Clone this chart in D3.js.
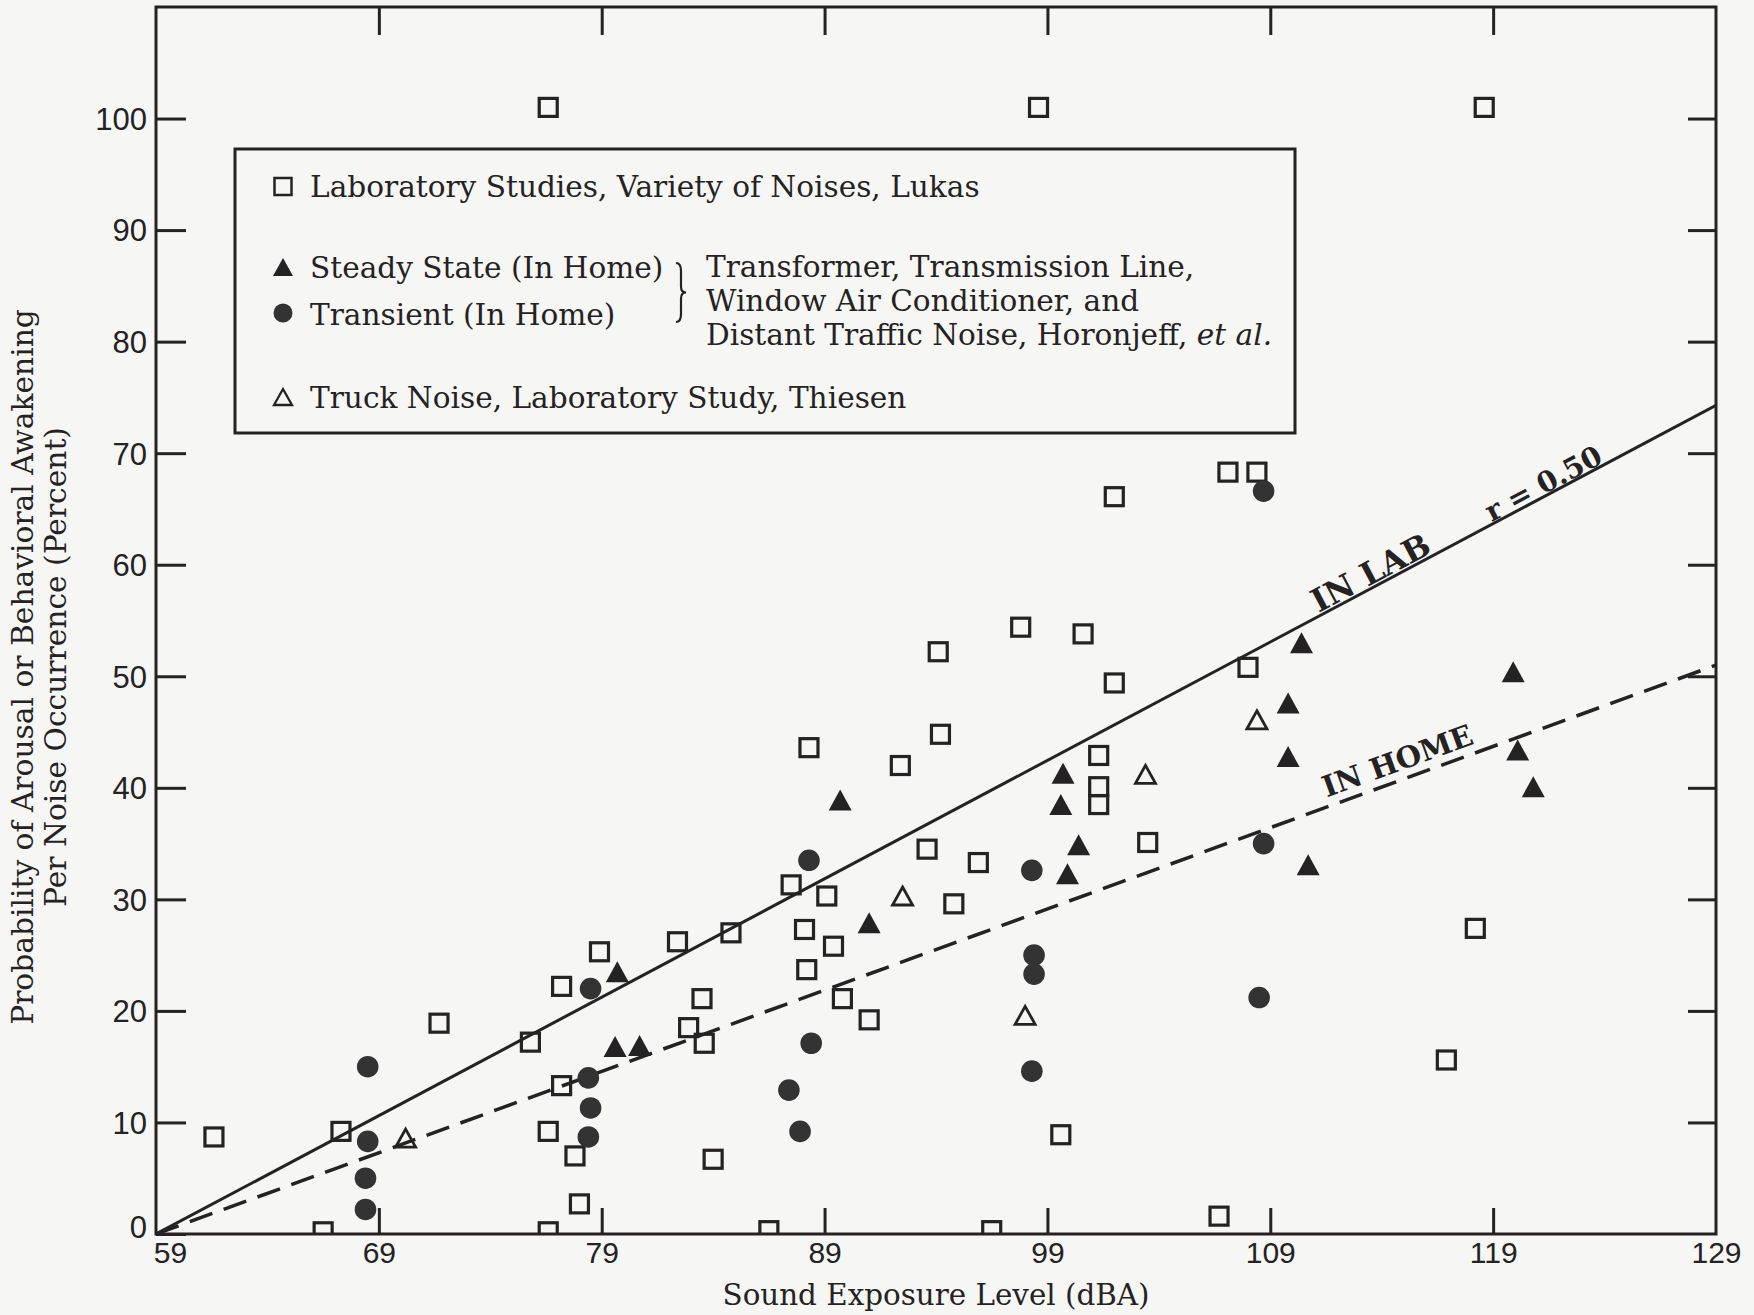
<!DOCTYPE html>
<html>
<head>
<meta charset="utf-8">
<script src="https://cdn.jsdelivr.net/npm/d3@7"></script>
<style>
  html, body { margin: 0; padding: 0; background: #f6f6f4; }
  svg { display: block; }
</style>
</head>
<body>
<svg id="chart" width="1754" height="1315"></svg>
<script>
// open squares - Laboratory Studies, Variety of Noises, Lukas
const labStudies = [
  [76.6, 101], [98.6, 101], [118.6, 101],
  [61.6, 8.7], [67.3, 9.2], [66.5, 0.2], [71.7, 18.9], [75.8, 17.2], [76.6, 9.2],
  [77.2, 13.3], [77.2, 22.2], [77.8, 7.0], [78.0, 2.7], [76.6, 0.2], [78.9, 25.3],
  [82.4, 26.2], [82.9, 18.5], [83.5, 21.1], [83.6, 17.1], [84.8, 27.0], [84.0, 6.7], [86.5, 0.3],
  [87.5, 31.3], [88.1, 27.3], [88.2, 23.7], [88.3, 43.6], [89.1, 30.3], [89.4, 25.8],
  [89.8, 21.1], [91.0, 19.2], [92.4, 42.0], [93.6, 34.5], [94.1, 52.2], [94.2, 44.8],
  [94.8, 29.6], [95.9, 33.3], [96.5, 0.3], [97.8, 54.4],
  [99.6, 8.9], [100.6, 53.8], [102.0, 49.4], [101.3, 42.9], [101.3, 40.1], [101.3, 38.5],
  [102.0, 66.1], [103.5, 35.1],
  [106.7, 1.6], [107.1, 68.3], [108.4, 68.3], [108.0, 50.8], [116.9, 15.6], [118.2, 27.4]
];

// filled triangles - Steady State (In Home)
const steadyState = [
  [79.7, 23.5], [79.6, 16.8], [80.7, 16.9], [89.7, 38.9], [91.0, 27.9],
  [99.7, 41.3], [99.6, 38.5], [100.4, 34.9], [99.9, 32.3],
  [110.4, 53.0], [109.8, 47.6], [109.8, 42.8], [110.7, 33.1],
  [119.9, 50.4], [120.1, 43.4], [120.8, 40.1]
];

// filled circles - Transient (In Home)
const transient = [
  [68.5, 15.0], [68.5, 8.3], [68.4, 5.0], [68.4, 2.2],
  [78.5, 22.0], [78.4, 14.0], [78.5, 11.3], [78.4, 8.7],
  [88.3, 33.5], [88.4, 17.1], [87.4, 12.9], [87.9, 9.2],
  [98.3, 32.6], [98.4, 25.0], [98.4, 23.3], [98.3, 14.6],
  [108.7, 66.6], [108.7, 35.0], [108.5, 21.2]
];

// open triangles - Truck Noise, Laboratory Study, Thiesen
const truckNoise = [[70.2, 8.6], [92.5, 30.3], [98.0, 19.6], [103.4, 41.2], [108.4, 46.1]];

// regression lines
const labLine = [[59, 0], [129, 74.3]];
const homeLine = [[59, 0], [129, 51]];

const xTicks = [59, 69, 79, 89, 99, 109, 119, 129];
const xInnerTicks = [69, 79, 89, 99, 109, 119];
const yTicks = [0, 10, 20, 30, 40, 50, 60, 70, 80, 90, 100];
const yRightTicks = [10, 20, 30, 40, 50, 60, 70, 80, 90, 100];

const legendItems = [
  "Laboratory Studies, Variety of Noises, Lukas",
  "Steady State (In Home)",
  "Transient (In Home)",
  "Truck Noise, Laboratory Study, Thiesen"
];
const sourceLines = ["Transformer, Transmission Line,", "Window Air Conditioner, and", "Distant Traffic Noise, Horonjeff, "];

const ink = "#242223";
const serif = "'DejaVu Serif', serif";
const sans = "'Liberation Sans', Arial, sans-serif";

const svg = d3.select("#chart");
const pL = 156, pR = 1716, pT = 7, pB = 1234;

const x = d3.scaleLinear().domain([59, 129]).range([pL, pR]);
const y = d3.scaleLinear().domain([0, 110]).range([pB, pT]);

// scale font-size so the text gets the wanted width
function fit(sel, target) {
  const w = sel.node().getComputedTextLength();
  const fs = parseFloat(sel.attr("font-size"));
  const nfs = fs * target / w;
  sel.attr("font-size", nfs);
  return nfs;
}

svg.append("defs").append("clipPath").attr("id", "plotclip")
  .append("rect").attr("x", pL).attr("y", pT)
  .attr("width", pR - pL).attr("height", pB - pT);

// axes, ticks pointing inward
function styleAxis(g) {
  g.select(".domain").remove();
  g.selectAll(".tick line").attr("stroke", ink).attr("stroke-width", 3);
  g.selectAll(".tick text").attr("fill", ink);
}

svg.append("g")
  .attr("transform", `translate(${pL},0)`)
  .call(d3.axisLeft(y).tickValues(yTicks).tickSize(-30).tickPadding(9))
  .call(styleAxis)
  .call(g => g.selectAll(".tick text")
    .attr("font-family", sans).attr("font-size", 31)
    .attr("dy", d => d === 0 ? "0.12em" : "0.35em"));

svg.append("g")
  .attr("transform", `translate(${pR},0)`)
  .call(d3.axisRight(y).tickValues(yRightTicks).tickSize(-28).tickFormat(""))
  .call(styleAxis);

svg.append("g")
  .attr("transform", `translate(0,${pB})`)
  .call(d3.axisBottom(x).tickValues(xTicks).tickSize(-26).tickPadding(8))
  .call(styleAxis)
  .call(g => g.selectAll(".tick line").attr("opacity", d => xInnerTicks.includes(d) ? 1 : 0))
  .call(g => g.selectAll(".tick text")
    .attr("font-family", sans).attr("font-size", 30)
    .attr("dx", d => d === 59 ? 14 : 0));

svg.append("g")
  .attr("transform", `translate(0,${pT})`)
  .call(d3.axisTop(x).tickValues(xInnerTicks).tickSize(-28).tickFormat(""))
  .call(styleAxis);

// plot frame
svg.append("rect")
  .attr("x", pL).attr("y", pT)
  .attr("width", pR - pL).attr("height", pB - pT)
  .attr("fill", "none").attr("stroke", ink).attr("stroke-width", 3);

// axis titles
const xt = svg.append("text")
  .attr("x", 936).attr("y", 1305)
  .attr("text-anchor", "middle")
  .attr("font-family", serif).attr("font-size", 27).attr("fill", ink)
  .text("Sound Exposure Level (dBA)");
fit(xt, 427);

const yt1 = svg.append("text")
  .attr("transform", "translate(33,667) rotate(-90)")
  .attr("text-anchor", "middle")
  .attr("font-family", serif).attr("font-size", 27).attr("fill", ink)
  .text("Probability of Arousal or Behavioral Awakening");
const yfs = fit(yt1, 716);
svg.append("text")
  .attr("transform", "translate(66,667) rotate(-90)")
  .attr("text-anchor", "middle")
  .attr("font-family", serif).attr("font-size", yfs).attr("fill", ink)
  .text("Per Noise Occurrence (Percent)");

// regression lines
const line = d3.line().x(d => x(d[0])).y(d => y(d[1]));
const plot = svg.append("g").attr("clip-path", "url(#plotclip)");

plot.append("path").datum(labLine)
  .attr("d", line).attr("fill", "none")
  .attr("stroke", ink).attr("stroke-width", 3);

plot.append("path").datum(homeLine)
  .attr("d", line).attr("fill", "none")
  .attr("stroke", ink).attr("stroke-width", 3.5)
  .attr("stroke-dasharray", "24,12");

// labels lying along the lines
function lineLabel(pts, xv, txt, off, width) {
  const [p0, p1] = pts;
  const yv = p0[1] + (p1[1] - p0[1]) * (xv - p0[0]) / (p1[0] - p0[0]);
  const ang = Math.atan2(y(p1[1]) - y(p0[1]), x(p1[0]) - x(p0[0])) * 180 / Math.PI;
  const t = svg.append("text")
    .attr("transform", `translate(${x(xv)},${y(yv)}) rotate(${ang})`)
    .attr("y", -off)
    .attr("text-anchor", "middle")
    .attr("font-family", serif).attr("font-weight", "bold")
    .attr("font-size", 26).attr("fill", ink)
    .text(txt);
  fit(t, width);
}
lineLabel(labLine, 113.8, "IN LAB", 3, 130);
lineLabel(labLine, 121.5, "r = 0.50", 2, 128);
lineLabel(homeLine, 115.0, "IN HOME", 9, 158);

// marker shapes
function triPath(cx, cy, b, h) {
  return `M${cx},${cy - h / 2}L${cx + b / 2},${cy + h / 2}L${cx - b / 2},${cy + h / 2}Z`;
}

const marks = svg.append("g").attr("clip-path", "url(#plotclip)");

marks.selectAll(".sq").data(labStudies).join("rect")
  .attr("class", "sq")
  .attr("x", d => x(d[0]) - 9).attr("y", d => y(d[1]) - 9)
  .attr("width", 18).attr("height", 18)
  .attr("fill", "none").attr("stroke", ink).attr("stroke-width", 3.2);

marks.selectAll(".tr").data(steadyState).join("path")
  .attr("class", "tr")
  .attr("d", d => triPath(x(d[0]), y(d[1]), 23, 21))
  .attr("fill", ink);

marks.selectAll(".ci").data(transient).join("circle")
  .attr("class", "ci")
  .attr("cx", d => x(d[0])).attr("cy", d => y(d[1]))
  .attr("r", 10.8).attr("fill", "#333");

marks.selectAll(".ot").data(truckNoise).join("path")
  .attr("class", "ot")
  .attr("d", d => triPath(x(d[0]), y(d[1]), 20, 18))
  .attr("fill", "none").attr("stroke", ink).attr("stroke-width", 2.8)
  .attr("stroke-linejoin", "miter");

// legend
const lg = svg.append("g");
lg.append("rect")
  .attr("x", 235).attr("y", 149).attr("width", 1060).attr("height", 284)
  .attr("fill", "none").attr("stroke", ink).attr("stroke-width", 3);

const symX = 283;
lg.append("rect").attr("x", symX - 8.5).attr("y", 178).attr("width", 17).attr("height", 17)
  .attr("fill", "none").attr("stroke", ink).attr("stroke-width", 2.5);
lg.append("path").attr("d", triPath(symX, 267, 20, 18)).attr("fill", ink);
lg.append("circle").attr("cx", symX).attr("cy", 313).attr("r", 9.5).attr("fill", "#333");
lg.append("path").attr("d", triPath(symX, 397, 18, 16))
  .attr("fill", "none").attr("stroke", ink).attr("stroke-width", 2.3);

const baselines = [197, 278, 325, 408];
const first = lg.append("text")
  .attr("x", 310).attr("y", baselines[0])
  .attr("font-family", serif).attr("font-size", 26).attr("fill", ink)
  .text(legendItems[0]);
const lfs = fit(first, 670);
legendItems.slice(1).forEach((s, i) => {
  lg.append("text")
    .attr("x", 310).attr("y", baselines[i + 1])
    .attr("font-family", serif).attr("font-size", lfs).attr("fill", ink)
    .text(s);
});

// brace grouping the two in-home series
const bx = 676, bt = 263, bb = 322, bm = (bt + bb) / 2;
const bp = d3.path();
bp.moveTo(bx, bt);
bp.quadraticCurveTo(bx + 5, bt, bx + 5, bt + 8);
bp.lineTo(bx + 5, bm - 6);
bp.quadraticCurveTo(bx + 5, bm, bx + 10, bm);
bp.quadraticCurveTo(bx + 5, bm, bx + 5, bm + 6);
bp.lineTo(bx + 5, bb - 8);
bp.quadraticCurveTo(bx + 5, bb, bx, bb);
lg.append("path").attr("d", bp.toString())
  .attr("fill", "none").attr("stroke", ink).attr("stroke-width", 2.2);

[277, 311, 345].forEach((yy, i) => {
  const t = lg.append("text")
    .attr("x", 706).attr("y", yy)
    .attr("font-family", serif).attr("font-size", lfs).attr("fill", ink)
    .text(sourceLines[i]);
  if (i === 2) t.append("tspan").attr("font-style", "italic").text("et al.");
});
</script>
</body>
</html>
